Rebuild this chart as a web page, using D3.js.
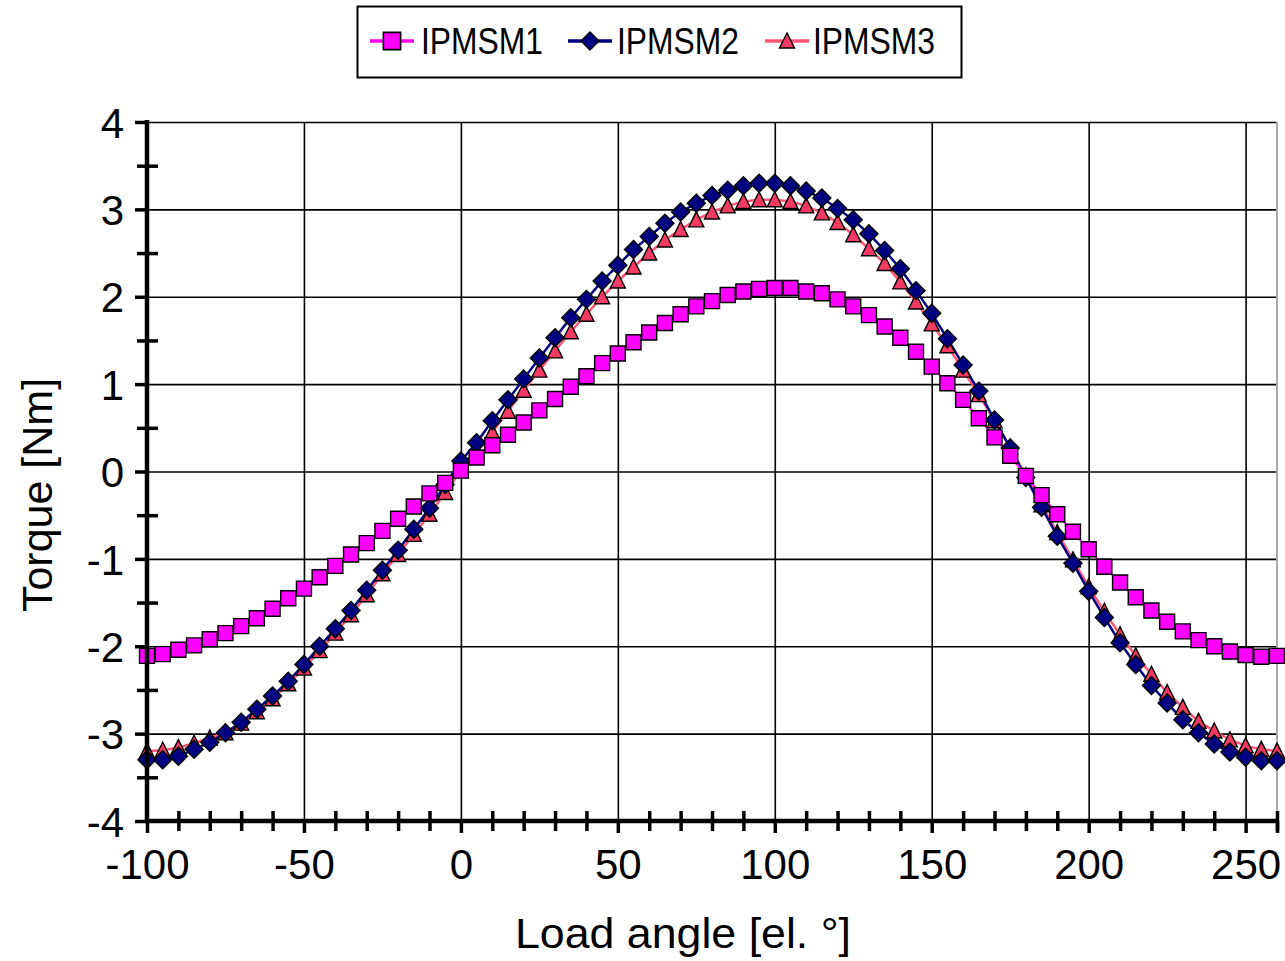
<!DOCTYPE html>
<html>
<head>
<meta charset="utf-8">
<script src="https://cdn.jsdelivr.net/npm/d3@7"></script>
<style>
html,body{margin:0;padding:0;background:#fff;}
svg{display:block;}
text{font-family:"Liberation Sans",Arial,sans-serif;fill:#000;}
</style>
</head>
<body>
<svg id="chart" width="1285" height="961"></svg>
<script>
const angles = [-100,-95,-90,-85,-80,-75,-70,-65,-60,-55,-50,-45,-40,-35,-30,-25,-20,-15,-10,-5,
  0,5,10,15,20,25,30,35,40,45,50,55,60,65,70,75,80,85,90,95,100,105,110,115,120,125,130,135,140,145,
  150,155,160,165,170,175,180,185,190,195,200,205,210,215,220,225,230,235,240,245,250,255,260];

const ipmsm1 = [-2.11,-2.09,-2.04,-1.99,-1.92,-1.85,-1.77,-1.68,-1.57,-1.45,-1.34,-1.21,-1.08,-0.95,-0.82,-0.68,-0.54,-0.40,-0.25,-0.13,
  0.01,0.16,0.30,0.42,0.56,0.70,0.83,0.97,1.09,1.24,1.35,1.48,1.59,1.70,1.80,1.89,1.95,2.02,2.06,2.09,2.10,2.10,2.06,2.04,1.97,1.89,1.79,1.66,1.53,1.37,
  1.20,1.01,0.82,0.61,0.39,0.18,-0.05,-0.27,-0.49,-0.69,-0.89,-1.09,-1.27,-1.44,-1.59,-1.72,-1.83,-1.93,-2.00,-2.06,-2.10,-2.12,-2.11];

const ipmsm2 = [-3.30,-3.30,-3.26,-3.18,-3.10,-2.99,-2.87,-2.72,-2.57,-2.40,-2.21,-2.00,-1.80,-1.59,-1.36,-1.13,-0.90,-0.66,-0.42,-0.15,
  0.12,0.33,0.58,0.82,1.06,1.30,1.53,1.76,1.97,2.18,2.36,2.54,2.69,2.84,2.97,3.07,3.16,3.22,3.27,3.30,3.30,3.27,3.21,3.13,3.01,2.88,2.72,2.53,2.32,2.07,
  1.81,1.52,1.22,0.92,0.59,0.27,-0.07,-0.41,-0.74,-1.05,-1.37,-1.67,-1.96,-2.21,-2.45,-2.65,-2.84,-2.99,-3.12,-3.21,-3.27,-3.31,-3.31];

const ipmsm3 = [-3.20,-3.19,-3.16,-3.11,-3.05,-2.99,-2.88,-2.75,-2.60,-2.43,-2.25,-2.05,-1.85,-1.64,-1.41,-1.17,-0.95,-0.72,-0.49,-0.24,
  0.01,0.23,0.45,0.69,0.93,1.16,1.38,1.60,1.80,2.00,2.18,2.34,2.50,2.65,2.77,2.88,2.97,3.04,3.09,3.11,3.11,3.09,3.04,2.96,2.85,2.71,2.55,2.38,2.17,1.94,
  1.69,1.44,1.16,0.88,0.58,0.28,-0.05,-0.38,-0.70,-1.01,-1.32,-1.60,-1.87,-2.11,-2.32,-2.53,-2.70,-2.86,-2.97,-3.07,-3.14,-3.18,-3.20];

const seriesNames = ["IPMSM1","IPMSM2","IPMSM3"];
const xMajorTicks = [-100,-50,0,50,100,150,200,250];
const xMinorTicks = [-90,-80,-70,-60,-40,-30,-20,-10,10,20,30,40,60,70,80,90,110,120,130,140,160,170,180,190,210,220,230,240,260];
const yMajorTicks = [-4,-3,-2,-1,0,1,2,3,4];
const yMinorTicks = [-3.5,-2.5,-1.5,-0.5,0.5,1.5,2.5,3.5];
const xTitle = "Load angle [el. °]";
const yTitle = "Torque [Nm]";

const svg = d3.select("#chart");
const L = 147, R = 1277, T = 122, B = 821;
const x = d3.scaleLinear().domain([-100, 260]).range([L, R]);
const y = d3.scaleLinear().domain([-4, 4]).range([B, T]);
const fmt = d => String(d);

// grid
svg.append("g").attr("transform", `translate(0,${B})`)
  .call(d3.axisBottom(x).tickValues(xMajorTicks).tickSize(-(B - T)).tickFormat(""))
  .call(g => g.select(".domain").remove())
  .call(g => g.selectAll("line").attr("stroke", "#000").attr("stroke-width", 1.6));
svg.append("g").attr("transform", `translate(${L},0)`)
  .call(d3.axisLeft(y).tickValues(yMajorTicks).tickSize(-(R - L)).tickFormat(""))
  .call(g => g.select(".domain").remove())
  .call(g => g.selectAll("line").attr("stroke", "#000").attr("stroke-width", 1.6));
// right border
svg.append("line").attr("x1", R).attr("x2", R).attr("y1", T).attr("y2", B)
  .attr("stroke", "#aaa").attr("stroke-width", 2);

// series
const series = [
  {name: "IPMSM3", values: ipmsm3, line: "#ff5577", fill: "#f23a62", shape: "tri", lw: 2.5},
  {name: "IPMSM2", values: ipmsm2, line: "#000080", fill: "#000080", shape: "dia", lw: 2.5},
  {name: "IPMSM1", values: ipmsm1, line: "#ff00ff", fill: "#ff00ff", shape: "sq", lw: 2}
];
const line = d3.line().x(d => x(d[0])).y(d => y(d[1]));
const plot = svg.append("g");
series.forEach(s => {
  plot.append("path").datum(angles.map((a, i) => [a, s.values[i]]))
    .attr("d", line).attr("fill", "none").attr("stroke", s.line).attr("stroke-width", s.lw);
});
function shapePath(shape, cx, cy) {
  if (shape === "sq") { const h = 7.5; return `M${cx-h},${cy-h}H${cx+h}V${cy+h}H${cx-h}Z`; }
  if (shape === "dia") { const h = 9; return `M${cx},${cy-h}L${cx+h},${cy}L${cx},${cy+h}L${cx-h},${cy}Z`; }
  const w = 7.5, hh = 8; return `M${cx},${cy-hh}L${cx+w},${cy+hh-1}L${cx-w},${cy+hh-1}Z`;
}
series.forEach(s => {
  plot.append("g").selectAll("path").data(angles.map((a, i) => [a, s.values[i]])).join("path")
    .attr("d", d => shapePath(s.shape, x(d[0]), y(d[1])))
    .attr("fill", s.fill).attr("stroke", "#000").attr("stroke-width", 1.4);
});

// axes
const fs = 42;
svg.append("g").attr("transform", `translate(0,${B})`)
  .call(d3.axisBottom(x).tickValues(xMinorTicks).tickSize(10).tickFormat(""))
  .call(g => g.select(".domain").remove())
  .call(g => g.selectAll("line").attr("y1", -10).attr("stroke", "#000").attr("stroke-width", 3.5));
svg.append("g").attr("transform", `translate(${L},0)`)
  .call(d3.axisLeft(y).tickValues(yMinorTicks).tickSize(10).tickFormat(""))
  .call(g => g.select(".domain").remove())
  .call(g => g.selectAll("line").attr("x2", 11).attr("x1", -10).attr("stroke", "#000").attr("stroke-width", 3.5));
svg.append("g").attr("transform", `translate(0,${B})`)
  .call(d3.axisBottom(x).tickValues(xMajorTicks.concat([260])).tickSize(12).tickPadding(16).tickSizeOuter(0)
    .tickFormat(d => d === 260 ? "" : fmt(d)))
  .call(g => g.select(".domain").attr("stroke", "#000").attr("stroke-width", 4.5)
      .attr("d", `M${L - 2},0H${R + 2}`))
  .call(g => g.selectAll("line").attr("stroke", "#000").attr("stroke-width", 3.5))
  .call(g => g.selectAll("text").attr("font-size", fs).attr("font-family", "Liberation Sans, Arial, sans-serif").attr("fill", "#000"));
svg.append("g").attr("transform", `translate(${L},0)`)
  .call(d3.axisLeft(y).tickValues(yMajorTicks).tickSize(12).tickPadding(11).tickSizeOuter(0).tickFormat(fmt))
  .call(g => g.select(".domain").attr("stroke", "#000").attr("stroke-width", 4.5)
      .attr("d", `M0,${T - 2}V${B + 2}`))
  .call(g => g.selectAll("line").attr("stroke", "#000").attr("stroke-width", 3.5))
  .call(g => g.selectAll("text").attr("font-size", fs).attr("dy", "0.36em").attr("font-family", "Liberation Sans, Arial, sans-serif").attr("fill", "#000"));

// titles
svg.append("text").attr("x", 683).attr("y", 948).attr("text-anchor", "middle")
  .attr("font-size", 42).attr("textLength", 336).attr("lengthAdjust", "spacingAndGlyphs").text(xTitle);
svg.append("text").attr("transform", "translate(52,495) rotate(-90)").attr("text-anchor", "middle")
  .attr("font-size", 43).text(yTitle);

// legend
const lg = svg.append("g");
lg.append("rect").attr("x", 357.5).attr("y", 6.5).attr("width", 604).attr("height", 71)
  .attr("fill", "#fff").attr("stroke", "#000").attr("stroke-width", 2);
const legendItems = [
  {name: seriesNames[0], s: series[2], cx: 392, tx: 421},
  {name: seriesNames[1], s: series[1], cx: 590, tx: 617},
  {name: seriesNames[2], s: series[0], cx: 787, tx: 813}
];
legendItems.forEach(it => {
  lg.append("line").attr("x1", it.cx - 22).attr("x2", it.cx + 22).attr("y1", 41).attr("y2", 41)
    .attr("stroke", it.s.line).attr("stroke-width", 3.5);
  lg.append("path").attr("d", shapePath(it.s.shape, it.cx, 41)).attr("fill", it.s.fill)
    .attr("stroke", "#000").attr("stroke-width", 1.4)
    .attr("transform", it.s.shape === "sq" ? `translate(${it.cx},41) scale(1.15) translate(${-it.cx},-41)` : null);
  lg.append("text").attr("x", it.tx).attr("y", 54).attr("font-size", 36)
    .attr("textLength", 122).attr("lengthAdjust", "spacingAndGlyphs").text(it.name);
});
</script>
</body>
</html>
